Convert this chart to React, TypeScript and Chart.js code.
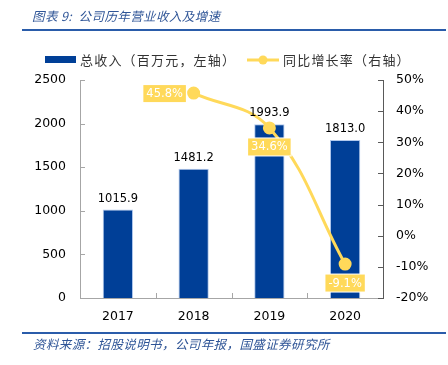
import React, { useEffect, useRef } from "react";
import { Chart, registerables } from "chart.js";

Chart.register(...registerables);

const categories = ["2017", "2018", "2019", "2020"];
const revenue = [1015.9, 1481.2, 1993.9, 1813.0];
const growth: (number | null)[] = [null, 45.8, 34.6, -9.1];
const leftTicks = [0, 500, 1000, 1500, 2000, 2500];
const rightTicks = [-20, -10, 0, 10, 20, 30, 40, 50];

const TITLE = "图表 9:  公司历年营业收入及增速";
const SOURCE = "资料来源：招股说明书，公司年报，国盛证券研究所";
const LEGEND_BAR = "总收入（百万元，左轴）";
const LEGEND_LINE = "同比增长率（右轴）";

const BLUE = "#003f97";
const YELLOW = "#ffd95a";
const NUM_FONT = "'DejaVu Sans', Verdana, sans-serif";
const CJK_FONT = "'Noto Sans CJK SC', sans-serif";

const decorPlugin = {
  id: "decor",
  beforeDraw(chart: any) {
    const ctx = chart.ctx;
    ctx.save();
    ctx.fillStyle = "#ffffff";
    ctx.fillRect(0, 0, chart.width, chart.height);
    ctx.restore();
  },
  afterDraw(chart: any) {
    const ctx = chart.ctx;
    const area = chart.chartArea;
    ctx.save();
    // title
    ctx.fillStyle = "#2f5597";
    ctx.font = "italic 12.5px " + CJK_FONT;
    ctx.textBaseline = "middle";
    ctx.textAlign = "left";
    (ctx as any).letterSpacing = "0.4px";
    ctx.fillText(TITLE, 32, 16);
    // rules
    ctx.strokeStyle = "#2a5caa";
    ctx.lineWidth = 2;
    ctx.beginPath();
    ctx.moveTo(22, 30);
    ctx.lineTo(446, 30);
    ctx.moveTo(22, 333);
    ctx.lineTo(446, 333);
    ctx.stroke();
    // source
    ctx.font = "italic 12.5px " + CJK_FONT;
    ctx.fillStyle = "#2f5597";
    (ctx as any).letterSpacing = "0.4px";
    ctx.fillText(SOURCE, 33, 344);
    // legend
    ctx.fillStyle = BLUE;
    ctx.fillRect(45, 56, 31, 7);
    ctx.fillStyle = "#333";
    ctx.font = "13px " + CJK_FONT;
    (ctx as any).letterSpacing = "1.2px";
    ctx.fillText(LEGEND_BAR, 80, 60);
    ctx.strokeStyle = YELLOW;
    ctx.lineWidth = 3;
    ctx.beginPath();
    ctx.moveTo(247, 60);
    ctx.lineTo(279, 60);
    ctx.stroke();
    ctx.fillStyle = YELLOW;
    ctx.beginPath();
    ctx.arc(263, 60, 4.5, 0, Math.PI * 2);
    ctx.fill();
    ctx.fillStyle = "#333";
    ctx.fillText(LEGEND_LINE, 283, 60);
    (ctx as any).letterSpacing = "0px";

    // inward tick marks
    const yL = chart.scales.y;
    const yR = chart.scales.y1;
    const x = chart.scales.x;
    ctx.lineWidth = 1;
    ctx.strokeStyle = "#a6a6a6";
    ctx.beginPath();
    yL.ticks.forEach((t: any) => {
      const py = Math.round(yL.getPixelForValue(t.value)) + 0.5;
      ctx.moveTo(area.left, py);
      ctx.lineTo(area.left + 5, py);
    });
    for (let i = 0; i < categories.length - 1; i++) {
      const px = Math.round((x.getPixelForValue(i) + x.getPixelForValue(i + 1)) / 2) + 0.5;
      ctx.moveTo(px, area.bottom);
      ctx.lineTo(px, area.bottom - 5);
    }
    ctx.stroke();
    ctx.strokeStyle = "#595959";
    ctx.beginPath();
    yR.ticks.forEach((t: any) => {
      const py = Math.round(yR.getPixelForValue(t.value)) + 0.5;
      ctx.moveTo(area.right, py);
      ctx.lineTo(area.right - 5, py);
    });
    ctx.stroke();
    ctx.restore();
  },
  afterDatasetsDraw(chart: any) {
    const ctx = chart.ctx;
    ctx.save();
    // bar labels
    const barMeta = chart.getDatasetMeta(0);
    ctx.font = "11.5px " + NUM_FONT;
    ctx.fillStyle = "#000";
    ctx.textAlign = "center";
    ctx.textBaseline = "bottom";
    barMeta.data.forEach((el: any, i: number) => {
      ctx.fillText(revenue[i].toFixed(1), el.x, el.y - 5);
    });
    // line labels
    const lineMeta = chart.getDatasetMeta(1);
    ctx.font = "11.5px " + NUM_FONT;
    ctx.textBaseline = "middle";
    lineMeta.data.forEach((el: any, i: number) => {
      const v = growth[i];
      if (v === null || v === undefined) return;
      const text = v.toFixed(1) + "%";
      const w = ctx.measureText(text).width + 6;
      const h = 17;
      let cx = el.x;
      let cy = el.y + 19;
      if (i === 1) {
        cx = el.x - 29;
        cy = el.y + 0.5;
      }
      ctx.fillStyle = YELLOW;
      ctx.strokeStyle = "#ffffff";
      ctx.lineWidth = 2;
      ctx.strokeRect(cx - w / 2, cy - h / 2, w, h);
      ctx.fillRect(cx - w / 2, cy - h / 2, w, h);
      ctx.fillStyle = "#ffffff";
      ctx.textAlign = "center";
      ctx.fillText(text, cx, cy + 0.5);
    });
    ctx.restore();
  },
};

export default function App() {
  const ref = useRef<HTMLCanvasElement>(null);
  useEffect(() => {
    if (!ref.current) return;
    const chart = new Chart(ref.current, {
      type: "bar",
      data: {
        labels: categories,
        datasets: [
          {
            type: "bar",
            label: LEGEND_BAR,
            data: revenue,
            backgroundColor: BLUE,
            borderColor: "rgba(170,195,235,0.9)",
            borderWidth: 1,
            barPercentage: 0.4,
            categoryPercentage: 1,
            yAxisID: "y",
            order: 2,
          },
          {
            type: "line",
            label: LEGEND_LINE,
            data: growth,
            borderColor: YELLOW,
            backgroundColor: YELLOW,
            borderWidth: 3,
            pointRadius: 5,
            pointBackgroundColor: YELLOW,
            pointBorderColor: YELLOW,
            tension: 0.4,
            yAxisID: "y1",
            order: 1,
          } as any,
        ],
      },
      options: {
        responsive: false,
        animation: false,
        devicePixelRatio: 1,
        layout: { padding: { top: 80, left: 0, right: 0, bottom: 0 } },
        plugins: { legend: { display: false }, tooltip: { enabled: false } },
        scales: {
          x: {
            offset: true,
            grid: { display: false, drawTicks: false },
            border: { display: true, color: "#a6a6a6", width: 1 },
            ticks: { color: "#000", font: { family: NUM_FONT, size: 12.5 }, padding: 11 },
            afterFit: (s: any) => {
              s.height = 67;
            },
          },
          y: {
            position: "left",
            min: 0,
            max: 2500,
            afterBuildTicks: (s: any) => {
              s.ticks = leftTicks.map((v) => ({ value: v }));
            },
            grid: { display: false, drawTicks: false },
            border: { display: true, color: "#a6a6a6", width: 1 },
            ticks: {
              color: "#000",
              font: { family: NUM_FONT, size: 12.5 },
              padding: 14,
              callback: (v: any) => String(v),
            },
            afterFit: (s: any) => {
              s.width = 80;
            },
          },
          y1: {
            position: "right",
            min: -20,
            max: 50,
            afterBuildTicks: (s: any) => {
              s.ticks = rightTicks.map((v) => ({ value: v }));
            },
            grid: { display: false, drawTicks: false },
            border: { display: true, color: "#595959", width: 1 },
            ticks: {
              color: "#000",
              font: { family: NUM_FONT, size: 12.5 },
              padding: 13,
              callback: (v: any) => v + "%",
            },
            afterFit: (s: any) => {
              s.width = 65;
            },
          },
        },
      },
      plugins: [decorPlugin],
    });
    return () => chart.destroy();
  }, []);
  return (
    <canvas
      ref={ref}
      width={448}
      height={365}
      style={{ position: "absolute", left: 0, top: 0, width: 448, height: 365 }}
    />
  );
}
